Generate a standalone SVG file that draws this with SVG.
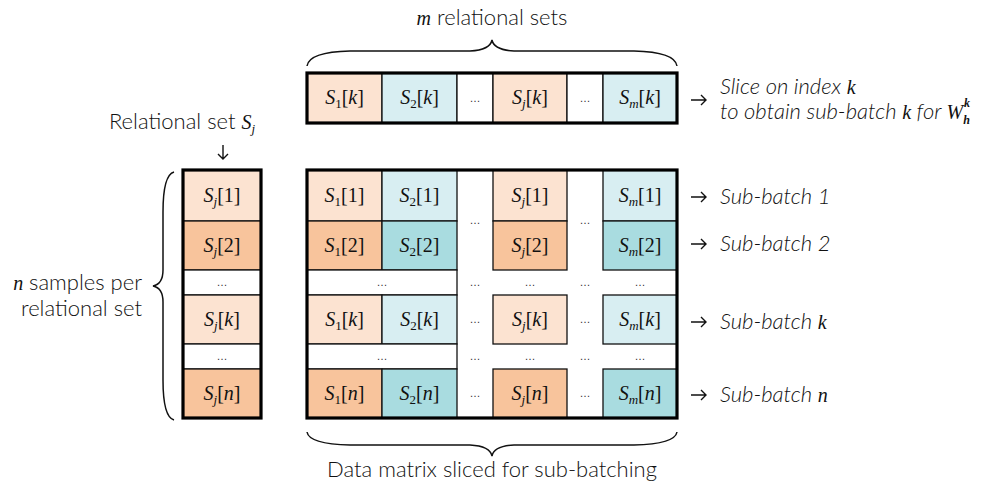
<svg xmlns="http://www.w3.org/2000/svg" width="990" height="492" viewBox="0 0 990 492">
<style>
.lo{fill:#FCE3D1;stroke:#111;stroke-width:1.3}
.do{fill:#F8C49C;stroke:#111;stroke-width:1.3}
.lc{fill:#D8EEF2;stroke:#111;stroke-width:1.3}
.dc{fill:#A9DCE0;stroke:#111;stroke-width:1.3}
.wc{fill:#fff;stroke:#111;stroke-width:1.3}
.thick{fill:none;stroke:#000;stroke-width:3.2}
.m{font-family:"Liberation Serif","DejaVu Serif",serif;font-size:20px;font-weight:400;fill:#111;text-anchor:middle}
.i{font-style:italic}
.sub{font-size:13px}
.mi{font-family:"Liberation Serif","DejaVu Serif",serif;font-style:italic;font-weight:400;font-size:20px}
.ms{font-family:"Liberation Serif","DejaVu Serif",serif;font-style:italic;font-weight:400;font-size:13px}
.mb{font-family:"Liberation Serif","DejaVu Serif",serif;font-style:italic;font-weight:700;font-size:12px}
.dots{font-family:"Liberation Sans",sans-serif;font-size:11px;fill:#333;text-anchor:middle}
.lbl{font-family:Lato,"Open Sans","Liberation Sans",sans-serif;font-weight:300;font-size:22px;fill:#111}
.it{font-style:italic}
.br{fill:none;stroke:#111;stroke-width:1.5}
.ar{fill:none;stroke:#111;stroke-width:1.4}
</style>

<!-- top row: slice on index k -->
<g id="top-row">
<rect class="lo" x="307" y="73" width="75" height="50"/>
<rect class="lc" x="382" y="73" width="75" height="50"/>
<rect class="wc" x="457" y="73" width="36" height="50"/>
<rect class="lo" x="493" y="73" width="74" height="50"/>
<rect class="wc" x="567" y="73" width="36" height="50"/>
<rect class="lc" x="603" y="73" width="74" height="50"/>
<rect class="thick" x="307" y="73" width="370" height="50"/>
<text class="m" x="344.5" y="104"><tspan class="i">S</tspan><tspan class="sub" dy="4">1</tspan><tspan dy="-4">[</tspan><tspan class="i">k</tspan>]</text>
<text class="m" x="419.5" y="104"><tspan class="i">S</tspan><tspan class="sub" dy="4">2</tspan><tspan dy="-4">[</tspan><tspan class="i">k</tspan>]</text>
<text class="dots" x="475" y="102">…</text>
<text class="m" x="530" y="104"><tspan class="i">S</tspan><tspan class="sub i" dy="4">j</tspan><tspan dy="-4">[</tspan><tspan class="i">k</tspan>]</text>
<text class="dots" x="585" y="102">…</text>
<text class="m" x="640" y="104"><tspan class="i">S</tspan><tspan class="sub i" dy="4">m</tspan><tspan dy="-4">[</tspan><tspan class="i">k</tspan>]</text>
</g>

<!-- left column: relational set Sj -->
<g id="left-column">
<rect class="lo" x="183" y="170" width="78" height="51"/>
<rect class="do" x="183" y="221" width="78" height="49"/>
<rect class="wc" x="183" y="270" width="78" height="25"/>
<rect class="lo" x="183" y="295" width="78" height="49"/>
<rect class="wc" x="183" y="344" width="78" height="25"/>
<rect class="do" x="183" y="369" width="78" height="49"/>
<rect class="thick" x="183" y="170" width="78" height="248"/>
<text class="m" x="222" y="202"><tspan class="i">S</tspan><tspan class="sub i" dy="4">j</tspan><tspan dy="-4">[1]</tspan></text>
<text class="m" x="222" y="252"><tspan class="i">S</tspan><tspan class="sub i" dy="4">j</tspan><tspan dy="-4">[2]</tspan></text>
<text class="dots" x="222" y="286">…</text>
<text class="m" x="222" y="326"><tspan class="i">S</tspan><tspan class="sub i" dy="4">j</tspan><tspan dy="-4">[</tspan><tspan class="i">k</tspan>]</text>
<text class="dots" x="222" y="360">…</text>
<text class="m" x="222" y="400"><tspan class="i">S</tspan><tspan class="sub i" dy="4">j</tspan><tspan dy="-4">[</tspan><tspan class="i">n</tspan>]</text>
</g>

<!-- data matrix -->
<g id="matrix">
<rect class="lo" x="307" y="170" width="75" height="51"/>
<rect class="lc" x="382" y="170" width="75" height="51"/>
<rect class="do" x="307" y="221" width="75" height="49"/>
<rect class="dc" x="382" y="221" width="75" height="49"/>
<rect class="wc" x="307" y="270" width="150" height="25"/>
<rect class="lo" x="307" y="295" width="75" height="49"/>
<rect class="lc" x="382" y="295" width="75" height="49"/>
<rect class="wc" x="307" y="344" width="150" height="25"/>
<rect class="do" x="307" y="369" width="75" height="49"/>
<rect class="dc" x="382" y="369" width="75" height="49"/>

<rect class="lo" x="493" y="170" width="74" height="51"/>
<rect class="do" x="493" y="221" width="74" height="49"/>
<rect class="lo" x="493" y="295" width="74" height="49"/>
<rect class="do" x="493" y="369" width="74" height="49"/>

<rect class="lc" x="603" y="170" width="74" height="51"/>
<rect class="dc" x="603" y="221" width="74" height="49"/>
<rect class="lc" x="603" y="295" width="74" height="49"/>
<rect class="dc" x="603" y="369" width="74" height="49"/>

<rect class="thick" x="307" y="170" width="370" height="248"/>

<text class="m" x="344.5" y="202"><tspan class="i">S</tspan><tspan class="sub" dy="4">1</tspan><tspan dy="-4">[1]</tspan></text>
<text class="m" x="419.5" y="202"><tspan class="i">S</tspan><tspan class="sub" dy="4">2</tspan><tspan dy="-4">[1]</tspan></text>
<text class="m" x="530" y="202"><tspan class="i">S</tspan><tspan class="sub i" dy="4">j</tspan><tspan dy="-4">[1]</tspan></text>
<text class="m" x="640" y="202"><tspan class="i">S</tspan><tspan class="sub i" dy="4">m</tspan><tspan dy="-4">[1]</tspan></text>

<text class="m" x="344.5" y="252"><tspan class="i">S</tspan><tspan class="sub" dy="4">1</tspan><tspan dy="-4">[2]</tspan></text>
<text class="m" x="419.5" y="252"><tspan class="i">S</tspan><tspan class="sub" dy="4">2</tspan><tspan dy="-4">[2]</tspan></text>
<text class="m" x="530" y="252"><tspan class="i">S</tspan><tspan class="sub i" dy="4">j</tspan><tspan dy="-4">[2]</tspan></text>
<text class="m" x="640" y="252"><tspan class="i">S</tspan><tspan class="sub i" dy="4">m</tspan><tspan dy="-4">[2]</tspan></text>

<text class="dots" x="475" y="224">…</text>
<text class="dots" x="585" y="224">…</text>

<text class="dots" x="382" y="286">…</text>
<text class="dots" x="475" y="286">…</text>
<text class="dots" x="530" y="286">…</text>
<text class="dots" x="585" y="286">…</text>
<text class="dots" x="640" y="286">…</text>

<text class="m" x="344.5" y="326"><tspan class="i">S</tspan><tspan class="sub" dy="4">1</tspan><tspan dy="-4">[</tspan><tspan class="i">k</tspan>]</text>
<text class="m" x="419.5" y="326"><tspan class="i">S</tspan><tspan class="sub" dy="4">2</tspan><tspan dy="-4">[</tspan><tspan class="i">k</tspan>]</text>
<text class="dots" x="475" y="323">…</text>
<text class="m" x="530" y="326"><tspan class="i">S</tspan><tspan class="sub i" dy="4">j</tspan><tspan dy="-4">[</tspan><tspan class="i">k</tspan>]</text>
<text class="dots" x="585" y="323">…</text>
<text class="m" x="640" y="326"><tspan class="i">S</tspan><tspan class="sub i" dy="4">m</tspan><tspan dy="-4">[</tspan><tspan class="i">k</tspan>]</text>

<text class="dots" x="382" y="360">…</text>
<text class="dots" x="475" y="360">…</text>
<text class="dots" x="530" y="360">…</text>
<text class="dots" x="585" y="360">…</text>
<text class="dots" x="640" y="360">…</text>

<text class="m" x="344.5" y="400"><tspan class="i">S</tspan><tspan class="sub" dy="4">1</tspan><tspan dy="-4">[</tspan><tspan class="i">n</tspan>]</text>
<text class="m" x="419.5" y="400"><tspan class="i">S</tspan><tspan class="sub" dy="4">2</tspan><tspan dy="-4">[</tspan><tspan class="i">n</tspan>]</text>
<text class="dots" x="475" y="397">…</text>
<text class="m" x="530" y="400"><tspan class="i">S</tspan><tspan class="sub i" dy="4">j</tspan><tspan dy="-4">[</tspan><tspan class="i">n</tspan>]</text>
<text class="dots" x="585" y="397">…</text>
<text class="m" x="640" y="400"><tspan class="i">S</tspan><tspan class="sub i" dy="4">m</tspan><tspan dy="-4">[</tspan><tspan class="i">n</tspan>]</text>
</g>

<!-- braces and labels -->
<g id="top-brace">
<path class="br" d="M307,66 Q309,52 350,51 L470,51 Q490,50 492,40 Q494,50 514,51 L634,51 Q675,52 677,66"/>
<text class="lbl" x="492" y="25" text-anchor="middle"><tspan class="mi">m</tspan> relational sets</text>
</g>
<g id="bottom-brace">
<path class="br" d="M307,432 Q309,444 350,445 L470,445 Q490,446 492,456 Q494,446 514,445 L634,445 Q675,444 677,432"/>
<text class="lbl" x="492" y="477" text-anchor="middle">Data matrix sliced for sub-batching</text>
</g>
<g id="left-brace">
<path class="br" d="M174,172 Q163,175 163,212 L163,270 Q163,284 153,286 Q163,288 163,302 L163,380 Q163,417 174,420"/>
<text class="lbl" x="142" y="290" text-anchor="end"><tspan class="mi">n</tspan> samples per</text>
<text class="lbl" x="142" y="316" text-anchor="end">relational set</text>
</g>
<g id="relational-set-label">
<text class="lbl" x="182" y="129" text-anchor="middle">Relational set <tspan class="mi">S</tspan><tspan class="ms" dy="4">j</tspan></text>
</g>

<!-- right labels -->
<g id="right-labels">
<text class="lbl it" x="720" y="94">Slice on index <tspan class="mi">k</tspan></text>
<text class="lbl it" x="720" y="119">to obtain sub-batch <tspan class="mi">k</tspan> for <tspan class="mi">W</tspan><tspan class="mb" dy="5">h</tspan><tspan class="mb" dx="-6" dy="-17">k</tspan></text>
<text class="lbl it" x="720" y="204">Sub-batch 1</text>
<text class="lbl it" x="720" y="251">Sub-batch 2</text>
<text class="lbl it" x="720" y="329">Sub-batch <tspan class="mi">k</tspan></text>
<text class="lbl it" x="720" y="402">Sub-batch <tspan class="mi">n</tspan></text>
</g>

<!-- connectors (arrows) -->
<g id="connectors">
<path class="ar" d="M691,100 H706 M701,95 L706,100 L701,105"/>
<path class="ar" d="M691,197 H706 M701,192 L706,197 L701,202"/>
<path class="ar" d="M691,244 H706 M701,239 L706,244 L701,249"/>
<path class="ar" d="M691,322 H706 M701,317 L706,322 L701,327"/>
<path class="ar" d="M691,395 H706 M701,390 L706,395 L701,400"/>
<path class="ar" d="M223,145 V159 M218,154 L223,159 L228,154"/>
</g>
</svg>
